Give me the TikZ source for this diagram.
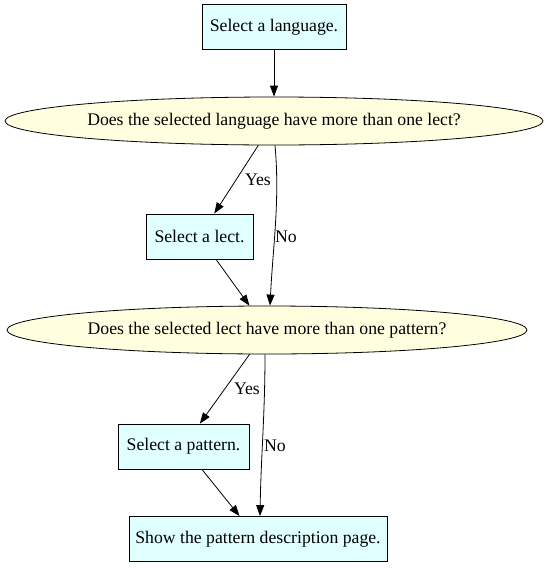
\documentclass[tikz,border=0pt]{standalone}
\usepackage{fontspec}
\setmainfont{Liberation Serif}
\usetikzlibrary{shapes.geometric,arrows.meta}
\definecolor{boxfill}{HTML}{E0FFFF}
\definecolor{ellfill}{HTML}{FFFFE0}
\begin{document}
\begin{tikzpicture}[x=1pt,y=-1pt,
  font=\fontsize{17.7}{21}\selectfont,
  stepbox/.style={draw=black,fill=boxfill,line width=0.8pt,inner xsep=0pt,minimum height=45pt},
  question/.style={ellipse,draw=black,fill=ellfill,line width=0.8pt,inner sep=0pt,minimum height=48pt},
  edge/.style={draw=black,line width=0.8pt,-{Triangle[length=11pt,width=8pt]}},
  lbl/.style={inner sep=0pt}]
\useasboundingbox (0,0) rectangle (548,568);
\node[stepbox,minimum width=144pt] (lang) at (274,27) {Select a language.};
\node[question,minimum width=538pt] (q1) at (274,121) {Does the selected language have more than one lect?};
\node[stepbox,minimum width=107pt] (lect) at (199.5,236.5) {Select a lect.};
\node[question,minimum width=520pt] (q2) at (267,330) {Does the selected lect have more than one pattern?};
\node[stepbox,minimum width=131pt] (pat) at (183.5,446.5) {Select a pattern.};
\node[stepbox,minimum width=258pt] (show) at (258,539) {Show the pattern description page.};
\draw[edge] (lang) -- (q1);
\draw[edge] (q1) -- (lect);
\draw[edge] ([xshift=1pt]q1.south) .. controls +(5,55) and +(3,-60) .. ([xshift=3pt]q2.north);
\draw[edge] (lect) -- (q2);
\draw[edge] (q2) -- (pat);
\draw[edge] ([xshift=-2pt]q2.south) .. controls +(0,60) and +(1,-60) .. ([xshift=2pt]show.north);
\draw[edge] (pat) -- (show);
\node[lbl] (yes1) at (258,180) {Yes};
\node[lbl] (no1) at (286,237) {No};
\node[lbl] (yes2) at (247,389) {Yes};
\node[lbl] (no2) at (275,446) {No};
\end{tikzpicture}
\end{document}
